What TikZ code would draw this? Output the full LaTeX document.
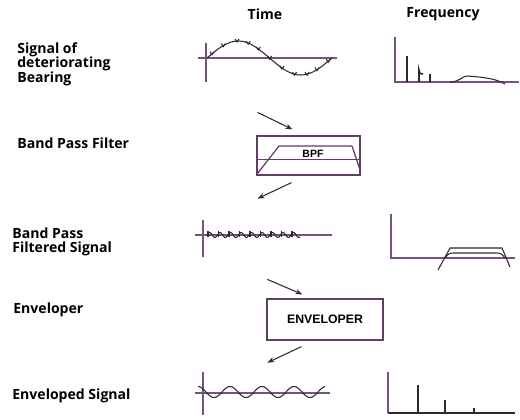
\documentclass[tikz,border=0pt]{standalone}
\usepackage{fontspec}
\setsansfont{Open Sans}
\newfontfamily\boxfont{Liberation Sans}
\usepackage{tikz}
\usetikzlibrary{arrows.meta,positioning,calc}
\definecolor{axcol}{RGB}{118,82,128}
\definecolor{sigcol}{RGB}{45,40,45}
\definecolor{boxcol}{RGB}{95,62,100}

\begin{document}
\begin{tikzpicture}[>=Stealth, x=0.02cm, y=-0.02cm]
  \tikzset{lbl/.style={anchor=west, align=left, inner sep=0pt, font=\sffamily\bfseries\fontsize{8}{8.3}\selectfont},
    hdr/.style={inner sep=0pt, font=\sffamily\bfseries\fontsize{8}{8.3}\selectfont},
    blk/.style={draw=boxcol, line width=0.7pt, inner sep=0pt, font=\boxfont\bfseries\fontsize{7}{8}\selectfont},
    axis/.style={draw=axcol, line width=0.8pt},
    sig/.style={draw=sigcol, line width=0.6pt},
    arr/.style={draw=sigcol, line width=0.6pt, -{Stealth[length=4pt,width=3pt]}}}
  \useasboundingbox (0,0) rectangle (520,419);
  % headers
  \node[hdr] (time) at (265,14) {Time};
  \node[hdr] (freq) at (443,14) {Frequency};
  % left labels
  \node[lbl] (l1) at (17,64) {Signal of\\deteriorating\\Bearing};
  \node[lbl] (l2) at (17,143) {Band Pass Filter};
  \node[lbl] (l3) at (12,242) {Band Pass\\Filtered Signal};
  \node[lbl] (l4) at (13,310) {Enveloper};
  \node[lbl] (l5) at (12,396) {Enveloped Signal};
  % row 1: raw signal
  \draw[axis] (206,43) -- (206,82);
  \draw[axis] (198,58) -- (337,58);
  \draw[sig] plot[domain=0:1, samples=60] ({207+125*\x},{58-17*sin(360*\x)});
  \foreach \t in {0.04,0.13,0.24,0.33,0.41,0.5,0.6,0.7,0.8,0.88,0.97}
    \draw[sig] ({207+125*\t},{58-17*sin(360*\t)}) ++(-2,-2) -- ++(2,3) -- ++(2,-3);
  \draw[axis] (395,37) -- (395,82) -- (519,82);
  \draw[sig, line width=0.9pt] (407,82) -- (407,56) (419,82) -- (419,70) .. controls (420,74) .. (423,74)
    (430,82) -- (430,74);
  \draw[sig] (450,82) .. controls (460,82) and (462,76) .. (467,76) .. controls (480,77) and (495,78) .. (505,84);
  % band pass filter
  \node[blk, minimum width=103*0.02cm, minimum height=39*0.02cm] (bpf) at (308.5,155.5) {};
  \node[font=\boxfont\bfseries\fontsize{6}{7}\selectfont, inner sep=0pt] (bpft) at (313,154) {BPF};
  \draw[draw=boxcol, line width=0.7pt] (bpf.west |- 0,159.5) -- (bpf.east |- 0,159.5);
  \draw[draw=boxcol, line width=0.7pt] ($(bpf.south west)+(1,-2)$) -- (279,146) -- (352,146) -- ($(bpf.south east)+(0,-4)$);
  \coordinate (a1e) at ($(bpf.north)+(-16,-6)$);
  \coordinate (a1s) at ($(a1e)+(-35,-17)$);
  \draw[arr] (a1s) -- (a1e);
  \coordinate (a2s) at ($(bpf.south)+(-17,7)$);
  \coordinate (a2e) at ($(a2s)+(-34,16)$);
  \draw[arr] (a2s) -- (a2e);
  % row 3: filtered signal
  \draw[axis] (203,220) -- (203,257);
  \draw[axis] (195,235) -- (332,235);
  \draw[sig] plot[domain=207:300, samples=90] (\x,{235-2.5*sin(34.29*(\x-207))});
  \foreach \k in {0,...,8}
    \draw[sig] ({208+10.5*\k},231) -- ({208+10.5*\k},237);
  \draw[axis] (391,214) -- (391,258) -- (515,258);
  \draw[sig] (438,270) -- (450,248) -- (502,248) -- (510,267);
  \draw[sig] (445,258) .. controls (449,253) .. (456,253) -- (494,253) .. controls (501,253) .. (505,258);
  % enveloper
  \node[blk, minimum width=116*0.02cm, minimum height=41*0.02cm] (env) at (325,319.5) {ENVELOPER};
  \coordinate (a3e) at ($(env.north west)+(36,-4)$);
  \coordinate (a3s) at ($(a3e)+(-35,-15)$);
  \draw[arr] (a3s) -- (a3e);
  \coordinate (a4s) at ($(env.south west)+(35,6)$);
  \coordinate (a4e) at ($(a4s)+(-34,16)$);
  \draw[arr] (a4s) -- (a4e);
  % row 5: enveloped signal
  \draw[axis] (203,372) -- (203,415);
  \draw[axis] (195,393) -- (330,393);
  \draw[sig] plot[domain=198:325, samples=100] (\x,{392-5.5*sin(11.25*(\x-190))});
  \draw[axis] (388,372) -- (388,413);
  \draw[sig] (388,413) -- (515,413);
  \draw[sig, line width=0.9pt] (418,413) -- (418,385) (445,413) -- (445,400) (474,413) -- (474,408);
\end{tikzpicture}
\end{document}
